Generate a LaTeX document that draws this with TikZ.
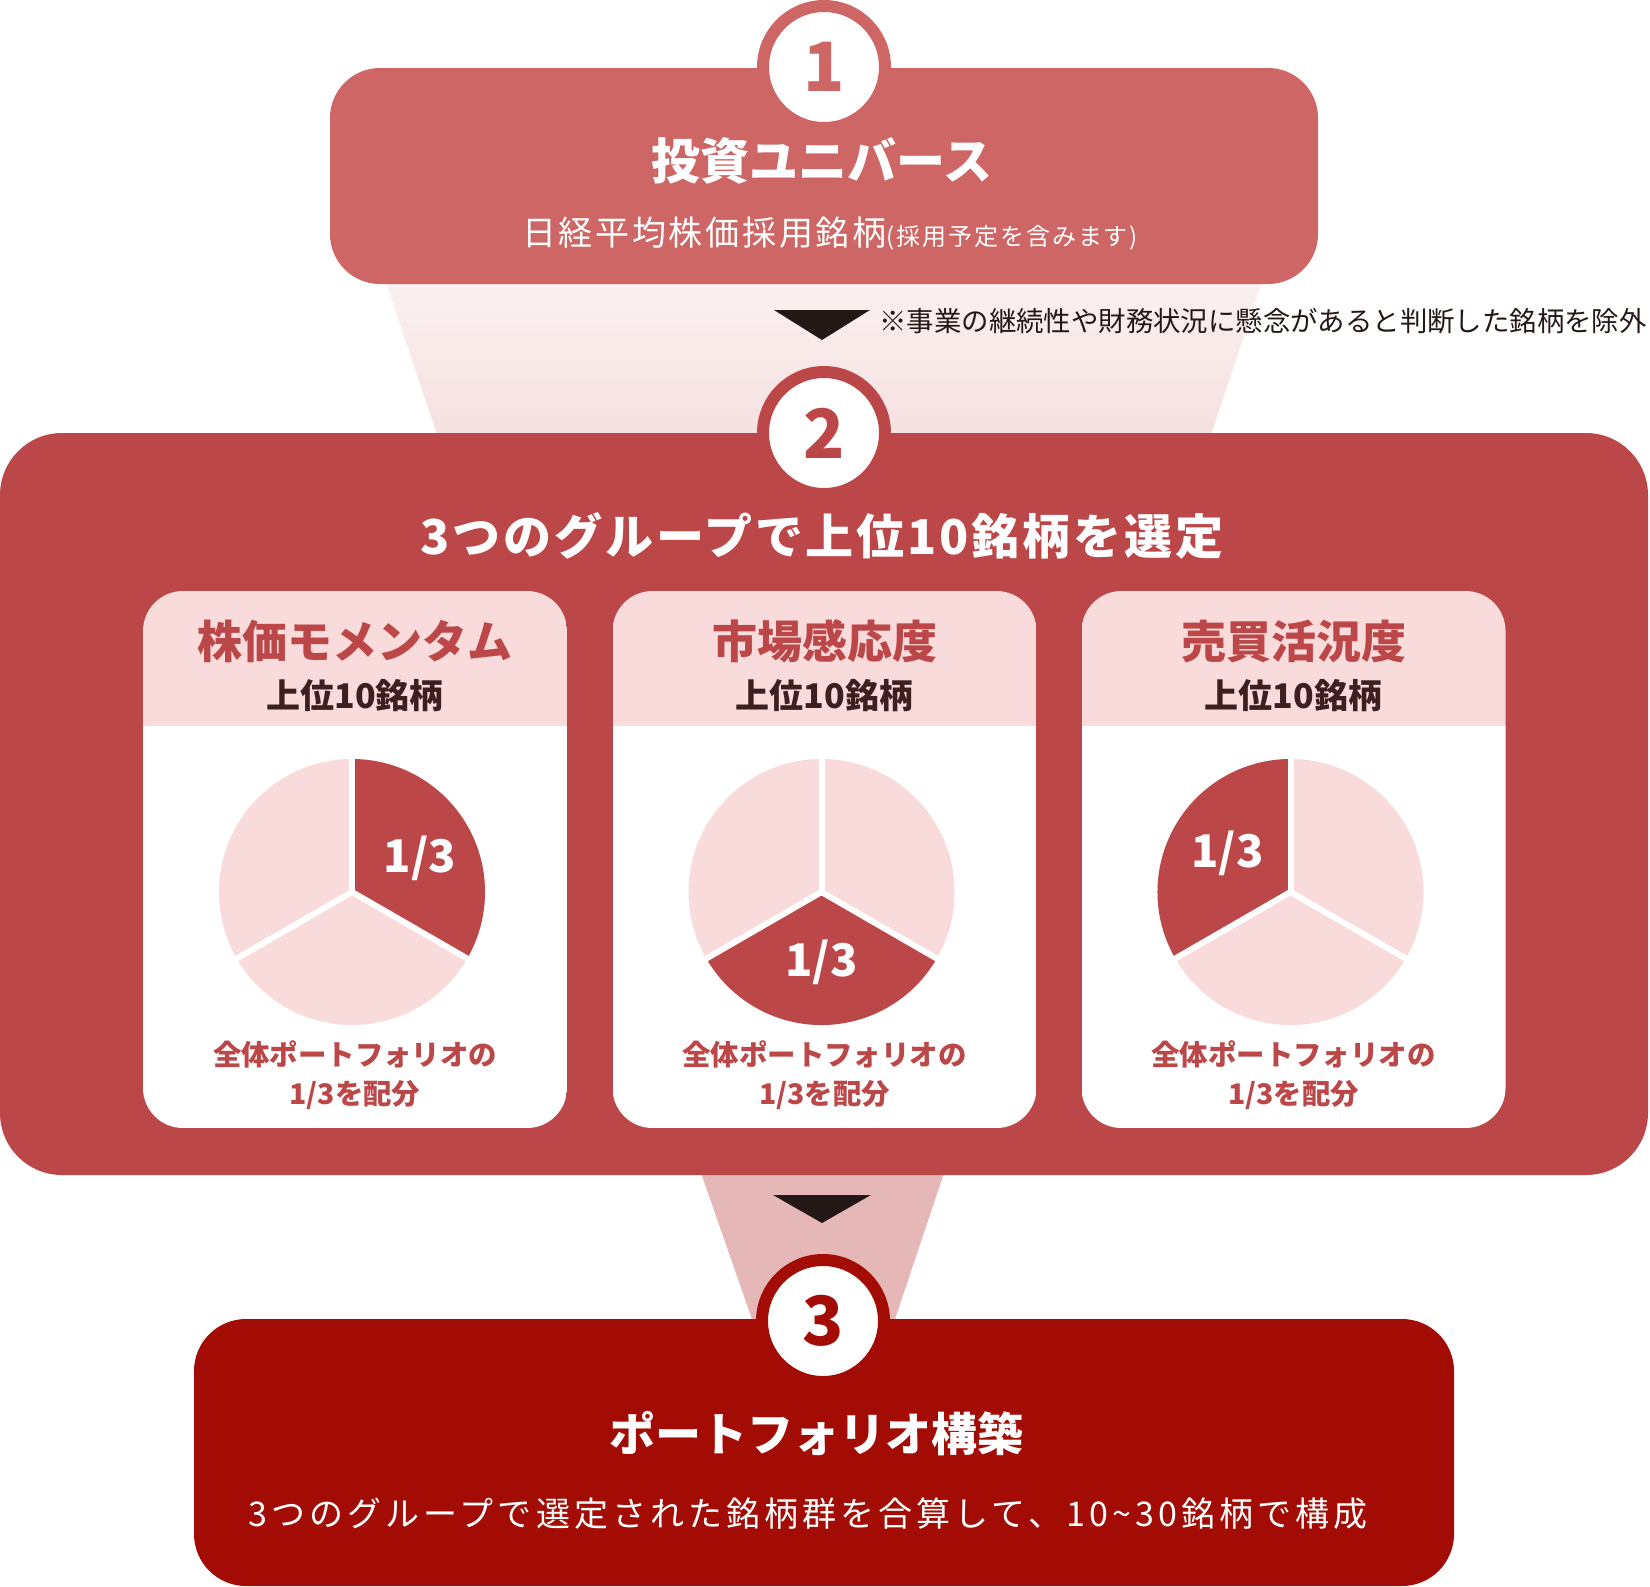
\documentclass[tikz,border=0pt]{standalone}
\usepackage{fontspec}
\setmainfont{Noto Sans CJK JP}
\definecolor{univ}{HTML}{CD6664}
\definecolor{grpred}{HTML}{BC4748}
\definecolor{build}{HTML}{A20C05}
\definecolor{blush}{HTML}{F9DBDB}
\definecolor{fununi}{HTML}{FBF1F1}
\definecolor{fungrp}{HTML}{F6E0E0}
\definecolor{funbld}{HTML}{E5B7B7}
\definecolor{ink}{HTML}{3E1E1E}
\definecolor{arrowc}{HTML}{231815}
\newcommand\setfs[1]{\fontsize{#1}{#1}\selectfont}

\begin{document}
\begin{tikzpicture}[x=0.5pt, y=-0.5pt,
    num/.style={circle, fill=white, draw=#1, line width=6pt, minimum size=61pt, inner sep=0pt, text=#1, font=\setfs{34pt}\bfseries},
    head/.style={text=white, font=\setfs{24.5pt}\bfseries, inner sep=0pt},
    sub/.style={text=white, font=\setfs{17pt}, inner sep=0pt},
    note/.style={text=arrowc, font=\setfs{13.7pt}, inner sep=0pt, anchor=west},
    cardttl/.style={text=grpred, font=\setfs{22.5pt}\bfseries, inner sep=0pt},
    cardsub/.style={text=ink, font=\setfs{17pt}\bfseries, inner sep=0pt},
    share/.style={text=grpred, font=\setfs{14.2pt}\bfseries, inner sep=0pt},
    pielbl/.style={text=white, font=\setfs{22.5pt}\bfseries, inner sep=0pt},
    tri/.style={fill=arrowc}]
  \useasboundingbox (0,0) rectangle (1650,1586);
  \shade[top color=fununi, bottom color=fungrp] (385,280) -- (1263,280) -- (1209,440) -- (439,440) -- cycle;
  \fill[funbld] (700,1170) -- (945,1170) -- (893,1325) -- (754,1325) -- cycle;
  \fill[univ, rounded corners=25pt] (330,68) rectangle (1318,284);
  \fill[grpred, rounded corners=31pt] (0,433) rectangle (1648,1175);
  \fill[build, rounded corners=26pt] (194,1319) rectangle (1454,1586);
  \fill[tri] (774,310) -- (870,310) -- (822,340) -- cycle;
  \fill[tri] (773,1195) -- (871,1195) -- (822,1223) -- cycle;
  \node[num=univ] (s1) at (824,67) {1};
  \node[num=grpred] (s2) at (824,433) {2};
  \node[num=build] (s3) at (823,1321) {3};
  \node[head] (uni) at (822,161) {投資ユニバース};
  \node[sub] (unisub) at (830,234) {\addfontfeature{LetterSpace=8}日経平均株価採用銘柄{\setfs{12pt}(採用予定を含みます)}};
  \node[note] (rem) at (879,321) {※事業の継続性や財務状況に懸念があると判断した銘柄を除外};
  \node[head, font=\setfs{24pt}\bfseries] (grp) at (822,536) {\addfontfeature{LetterSpace=6}3つのグループで上位10銘柄を選定};
  \foreach \cx/\ttl/\sa/\lx/\ly [count=\i] in {355/株価モメンタム/-90/68/-34, 824.5/市場感応度/30/0/70, 1293.5/売買活況度/150/-63/-39}{
    \begin{scope}
      \clip[rounded corners=20pt] (\cx-212,591) rectangle (\cx+212,1128);
      \fill[blush] (\cx-212,591) rectangle (\cx+212,726);
      \fill[white] (\cx-212,726) rectangle (\cx+212,1128);
    \end{scope}
    \coordinate (pie\i) at (\cx-3,892);
    \fill[blush] (pie\i) circle[radius=133];
    \fill[grpred] (pie\i) -- ++(\sa:133) arc[start angle=\sa, delta angle=120, radius=133] -- cycle;
    \foreach \a in {-90,30,150}
      \draw[white, line width=3pt] (pie\i) -- ++(\a:136);
    \node[pielbl] (lbl\i) at ({\cx-3+\lx},{892+\ly}) {1/3};
    \node[cardttl] (ttl\i) at (\cx,641) {\ttl};
    \node[cardsub] (top\i) at (\cx,696) {上位10銘柄};
    \node[share] (sha\i) at (\cx,1054) {全体ポートフォリオの};
    \node[share] (shb\i) at (\cx,1095) {1/3を配分};
  }
  \node[head, font=\setfs{23pt}\bfseries] (bld) at (816,1434) {ポートフォリオ構築};
  \node[sub] (bldsub) at (808,1514) {\addfontfeature{LetterSpace=12}3つのグループで選定された銘柄群を合算して、10\textasciitilde30銘柄で構成};
\end{tikzpicture}
\end{document}
